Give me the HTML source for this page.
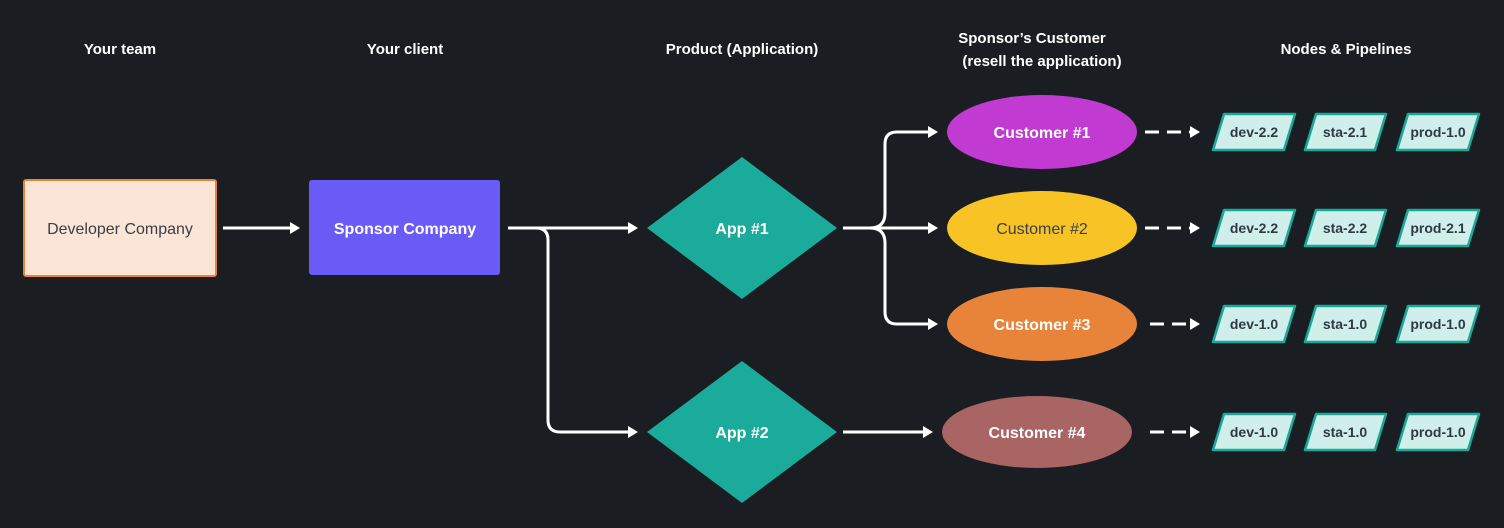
<!DOCTYPE html>
<html><head><meta charset="utf-8"><style>
html,body{margin:0;padding:0;background:#1a1d21;}
svg{display:block}
text{font-family:"Liberation Sans",sans-serif;}
</style></head><body>
<svg width="1504" height="528" viewBox="0 0 1504 528" xmlns="http://www.w3.org/2000/svg">
<rect width="1504" height="528" fill="#1a1d21"/>
<defs>
<marker id="ah" markerWidth="12" markerHeight="14" refX="2" refY="7" orient="auto" markerUnits="userSpaceOnUse">
<path d="M0,1 L10,7 L0,13 Z" fill="#fff"/>
</marker>
</defs>
<g font-weight="bold" font-size="15" fill="#fff" text-anchor="middle">
<text x="120" y="54">Your team</text>
<text x="405" y="54">Your client</text>
<text x="742" y="54">Product (Application)</text>
<text x="1032" y="43">Sponsor’s Customer</text>
<text x="1042" y="66">(resell the application)</text>
<text x="1346" y="54">Nodes &amp; Pipelines</text>
</g>
<rect x="24" y="180" width="192" height="96" rx="2" fill="#fbe5d6" stroke="#e8823a" stroke-width="2"/>
<text x="120" y="234" font-size="16" fill="#3a3f47" text-anchor="middle">Developer Company</text>
<rect x="309" y="180" width="191" height="95" rx="3" fill="#6a5af6"/>
<text x="405" y="234" font-size="16" font-weight="bold" fill="#fff" text-anchor="middle">Sponsor Company</text>
<g stroke="#fff" stroke-width="3" fill="none">
<path d="M223 228 H292" marker-end="url(#ah)"/>
<path d="M508 228 H630" marker-end="url(#ah)"/>
<path d="M508 228 H536 Q548 228 548 240 V420 Q548 432 560 432 H630" marker-end="url(#ah)"/>
<path d="M843 228 H930" marker-end="url(#ah)"/>
<path d="M843 228 H870 Q885 228 885 213 V144 Q885 132 897 132 H930" marker-end="url(#ah)"/>
<path d="M870 228 Q885 228 885 243 V312 Q885 324 897 324 H930" marker-end="url(#ah)"/>
<path d="M843 432 H925" marker-end="url(#ah)"/>
<g stroke-dasharray="14,8">
<path d="M1145 132 H1192" marker-end="url(#ah)"/>
<path d="M1145 228 H1192" marker-end="url(#ah)"/>
<path d="M1150 324 H1192" marker-end="url(#ah)"/>
<path d="M1150 432 H1192" marker-end="url(#ah)"/>
</g>
</g>
<polygon points="742,157 837,228 742,299 647,228" fill="#1aab9b"/>
<polygon points="742,361 837,432 742,503 647,432" fill="#1aab9b"/>
<g font-size="16" font-weight="bold" fill="#fff" text-anchor="middle">
<text x="742" y="234">App #1</text>
<text x="742" y="438">App #2</text>
</g>
<ellipse cx="1042" cy="132" rx="95" ry="37" fill="#c13ad1"/>
<ellipse cx="1042" cy="228" rx="95" ry="37" fill="#f7c325"/>
<ellipse cx="1042" cy="324" rx="95" ry="37" fill="#e8833a"/>
<ellipse cx="1037" cy="432" rx="95" ry="36" fill="#a86563"/>
<g font-size="16" font-weight="bold" text-anchor="middle">
<text x="1042" y="138" fill="#fff">Customer #1</text>
<text x="1042" y="234" fill="#3a3f47" font-weight="normal">Customer #2</text>
<text x="1042" y="330" fill="#fff">Customer #3</text>
<text x="1037" y="438" fill="#fff">Customer #4</text>
</g>
<g fill="#d0eeea" stroke="#1aa898" stroke-width="2.5" stroke-linejoin="round">
<g id="r1">
<polygon points="1224,114 1295,114 1284,150 1213,150"/>
<polygon points="1316,114 1386,114 1375,150 1305,150"/>
<polygon points="1408,114 1479,114 1468,150 1397,150"/>
</g>
<use href="#r1" y="96"/>
<use href="#r1" y="192"/>
<use href="#r1" y="300"/>
</g>
<g font-size="14" font-weight="bold" fill="#2f3a45" text-anchor="middle">
<text x="1254" y="137">dev-2.2</text><text x="1345" y="137">sta-2.1</text><text x="1438" y="137">prod-1.0</text>
<text x="1254" y="233">dev-2.2</text><text x="1345" y="233">sta-2.2</text><text x="1438" y="233">prod-2.1</text>
<text x="1254" y="329">dev-1.0</text><text x="1345" y="329">sta-1.0</text><text x="1438" y="329">prod-1.0</text>
<text x="1254" y="437">dev-1.0</text><text x="1345" y="437">sta-1.0</text><text x="1438" y="437">prod-1.0</text>
</g>
</svg>
</body></html>
